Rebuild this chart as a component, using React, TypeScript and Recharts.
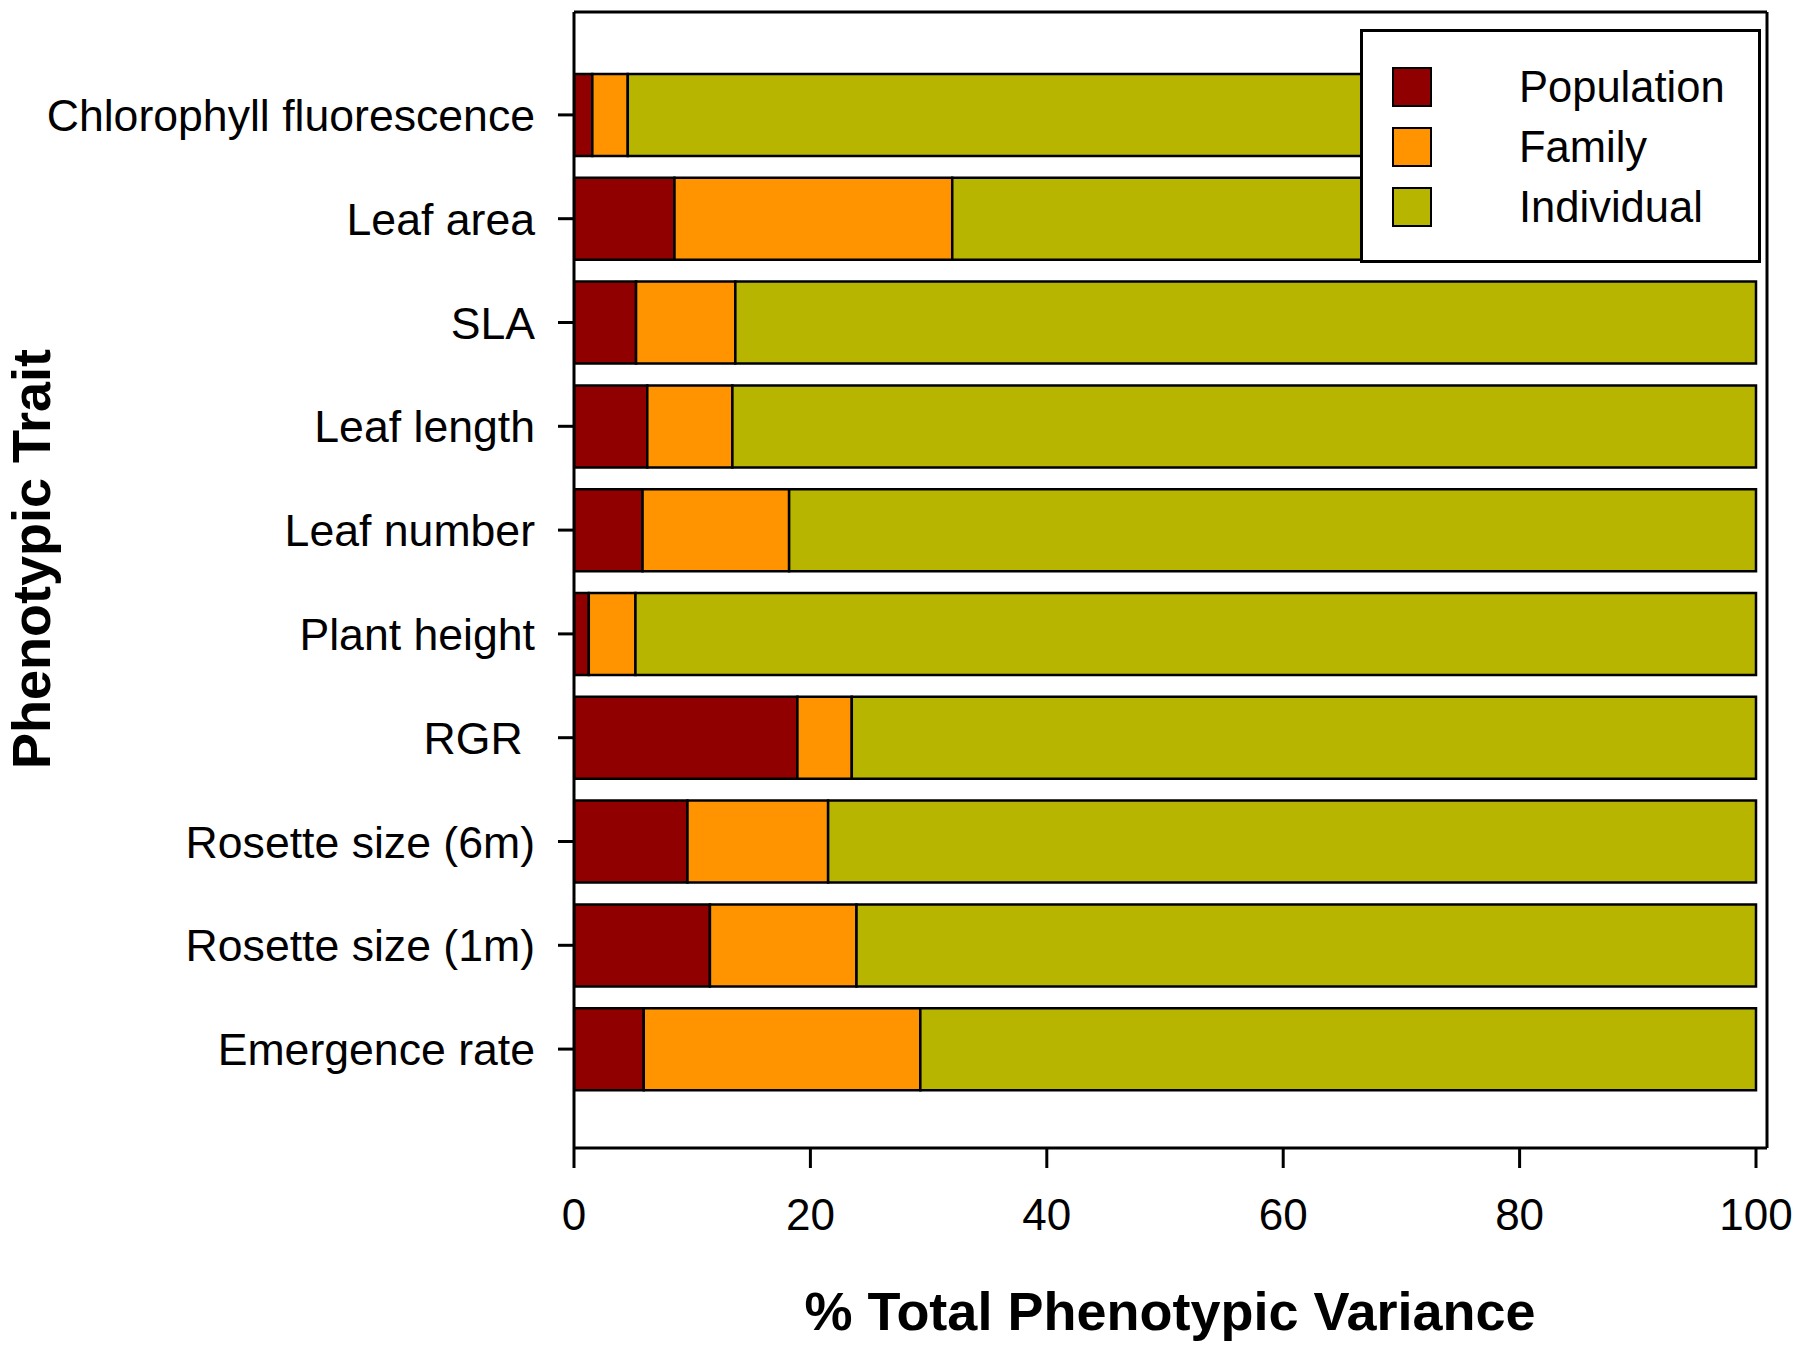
import React from 'react';
import { BarChart, Bar, XAxis, YAxis, Legend } from 'recharts';

// --- Data ---
const traits = [
  'Chlorophyll fluorescence',
  'Leaf area',
  'SLA',
  'Leaf length',
  'Leaf number',
  'Plant height',
  'RGR ',
  'Rosette size (6m)',
  'Rosette size (1m)',
  'Emergence rate',
];
const population = [1.55, 8.5, 5.25, 6.2, 5.8, 1.25, 18.9, 9.6, 11.5, 5.9];
const family = [3.0, 23.5, 8.4, 7.2, 12.4, 3.95, 4.6, 11.9, 12.4, 23.4];
const individual = [95.45, 68.0, 86.35, 86.6, 81.8, 94.8, 76.5, 78.5, 76.1, 70.7];
const xTicks = [0, 20, 40, 60, 80, 100];

const FONT = '"Liberation Sans", Arial, Helvetica, sans-serif';

const series = [
  { key: 'population', name: 'Population', color: '#910000' },
  { key: 'family', name: 'Family', color: '#ff9400' },
  { key: 'individual', name: 'Individual', color: '#b7b500' },
];

const data = traits.map((trait, i) => ({
  trait,
  population: population[i],
  family: family[i],
  individual: individual[i],
}));

const TraitTick = ({ x, y, payload }: any) => (
  <text
    x={x}
    y={y}
    dy="0.36em"
    textAnchor="end"
    fontSize={44.6}
    fontFamily={FONT}
    fill="#000"
    style={{ whiteSpace: 'pre' }}
  >
    {payload.value}
  </text>
);

const XTitle = () => (
  <text x={1170} y={1330} textAnchor="middle" fontSize={54} fontWeight="bold" fontFamily={FONT} fill="#000">
    % Total Phenotypic Variance
  </text>
);

const YTitle = () => (
  <text
    x={50}
    y={559}
    transform="rotate(-90 50 559)"
    textAnchor="middle"
    fontSize={54}
    fontWeight="bold"
    fontFamily={FONT}
    fill="#000"
  >
    Phenotypic Trait
  </text>
);

const LegendBox = () => (
  <div
    style={{
      boxSizing: 'border-box',
      width: 401,
      height: 234,
      border: '3px solid #000',
      background: '#fff',
      fontFamily: FONT,
      fontSize: 43.5,
      color: '#000',
      position: 'relative',
    }}
  >
    {series.map((s, i) => (
      <div
        key={s.key}
        style={{ position: 'absolute', left: 29, top: 35 + i * 60, height: 40, display: 'flex', alignItems: 'center' }}
      >
        <span
          style={{
            display: 'inline-block',
            width: 40,
            height: 40,
            boxSizing: 'border-box',
            background: s.color,
            border: '2.5px solid #000',
          }}
        />
        <span style={{ marginLeft: 87, lineHeight: '40px' }}>{s.name}</span>
      </div>
    ))}
  </div>
);

const axisStroke = { stroke: '#000', strokeWidth: 3 };

export default function App() {
  return (
    <div style={{ position: 'absolute', left: 0, top: 0, background: '#fff' }}>
      <BarChart
        width={1803}
        height={1352}
        data={data}
        layout="vertical"
        margin={{ top: 11, right: 35, bottom: 0, left: 0 }}
        barSize={82}
      >
        <XAxis
          type="number"
          domain={[0, 100.93]}
          ticks={xTicks}
          allowDataOverflow
          height={204}
          tickSize={20}
          tickMargin={31}
          axisLine={axisStroke}
          tickLine={axisStroke}
          tick={{ fontSize: 44, fill: '#000', fontFamily: FONT }}
          label={{ content: () => <XTitle /> }}
        />
        <XAxis
          xAxisId="top"
          orientation="top"
          type="number"
          domain={[0, 100.93]}
          height={1}
          tick={false}
          tickLine={false}
          axisLine={axisStroke}
        />
        <YAxis
          type="category"
          dataKey="trait"
          width={574}
          tickSize={16}
          tickMargin={23}
          padding={{ top: 51, bottom: 47 }}
          axisLine={axisStroke}
          tickLine={axisStroke}
          tick={<TraitTick />}
          label={{ content: () => <YTitle /> }}
        />
        <YAxis
          yAxisId="right"
          orientation="right"
          type="category"
          dataKey="trait"
          width={1}
          tick={false}
          tickLine={false}
          axisLine={axisStroke}
        />
        <Legend
          layout="horizontal"
          verticalAlign="middle"
          align="center"
          content={() => <LegendBox />}
          wrapperStyle={{ left: 1360, top: 29, width: 401, height: 234 }}
        />
        {series.map((s) => (
          <Bar
            key={s.key}
            dataKey={s.key}
            name={s.name}
            stackId="a"
            fill={s.color}
            stroke="#000"
            strokeWidth={2.5}
            isAnimationActive={false}
          />
        ))}
      </BarChart>
    </div>
  );
}
